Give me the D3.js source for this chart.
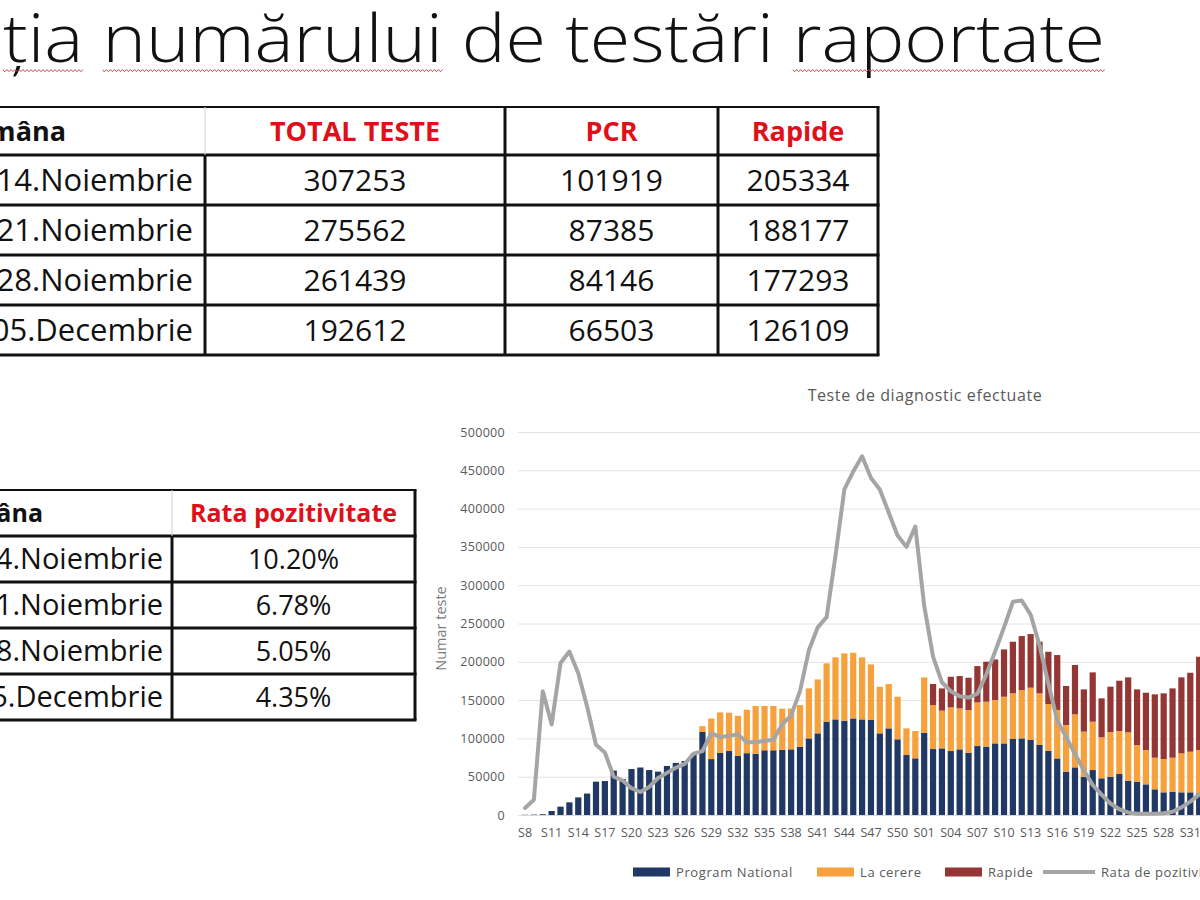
<!doctype html>
<html>
<head>
<meta charset="utf-8">
<title>Evoluția numărului de testări raportate</title>
<script src="https://cdn.jsdelivr.net/npm/d3@7"></script>
<style>
html,body{margin:0;padding:0;background:#fff;overflow:hidden;}
svg{display:block;font-family:'Open Sans','Noto Sans',sans-serif;}
</style>
</head>
<body>
<svg id="slide" width="1200" height="900"></svg>
<script>
// ---- date din slide ----
var titlu = "Evoluția numărului de testări raportate";

var saptamani = ["08-14.Noiembrie", "15-21.Noiembrie", "22-28.Noiembrie", "29-05.Decembrie"];
var totalTeste = [307253, 275562, 261439, 192612];
var testePCR = [101919, 87385, 84146, 66503];
var testeRapide = [205334, 188177, 177293, 126109];
var rataTabel = ["10.20%", "6.78%", "5.05%", "4.35%"];

// saptamanile din grafic (2020: S8..S52, 2021: S01..)
var weeks = ["S8","S9","S10","S11","S12","S13","S14","S15","S16","S17","S18","S19","S20","S21","S22","S23",
  "S24","S25","S26","S27","S28","S29","S30","S31","S32","S33","S34","S35","S36","S37","S38","S39","S40",
  "S41","S42","S43","S44","S45","S46","S47","S48","S49","S50","S51","S52",
  "S01","S02","S03","S04","S05","S06","S07","S08","S09","S10","S11","S12","S13","S14","S15","S16",
  "S17","S18","S19","S20","S21","S22","S23","S24","S25","S26","S27","S28","S29","S30","S31","S32"];

var programNational = [300,500,1000,5200,10900,16500,23000,28000,43500,44300,58000,47000,60000,62000,58700,56600,
  64000,68000,70500,80000,108500,73000,81000,83500,77000,80700,80000,84500,84500,85000,85700,89200,100000,
  106600,121800,124800,123100,126100,124800,124000,106600,113100,98800,78300,74000,
  107400,86100,87000,83500,85700,81300,90000,89200,93500,93500,99200,100000,97900,91400,83900,73900,
  56600,62200,50000,58700,47900,50000,53500,44800,43500,40000,33500,29600,30400,29600,29600,28300];

var laCerere = [0,0,0,0,0,0,0,0,0,0,0,0,0,0,0,0,
  0,0,0,0,7500,53000,53000,50000,52500,56800,62300,57800,57800,53800,53300,54300,65300,
  70400,76200,81000,87900,85700,81000,72600,60800,57900,55600,34800,35600,
  72200,57500,49200,57000,53500,55700,57000,58700,56600,60900,59600,63100,68300,67400,61000,63100,
  60900,69200,58800,63100,53500,58300,56100,63100,47900,44800,41300,43500,44400,50900,53000,56500];

var rapide = [0,0,0,0,0,0,0,0,0,0,0,0,0,0,0,0,
  0,0,0,0,0,0,0,0,0,0,0,0,0,0,0,0,0,
  0,0,0,0,0,0,0,0,0,0,0,0,
  0,27400,29100,40000,42200,42200,47400,52200,53000,61800,67400,70500,70000,67400,68200,71800,
  50900,64400,55200,64400,50900,59200,65700,71800,72600,74800,82700,85700,90500,99200,103100,121800];

// rata de pozitivitate (%), axa secundara
var rataPozitivitate = [0.55,1.2,9.7,7.1,11.9,12.8,11.1,8.5,5.5,4.9,3.0,2.7,2.1,1.8,2.2,2.9,
  3.3,3.7,4.0,4.8,5.0,6.4,6.1,6.2,6.3,5.7,5.7,5.8,5.9,7.1,7.8,9.7,12.9,
  14.7,15.5,20.3,25.5,26.9,28.1,26.4,25.5,23.7,21.9,21.0,22.6,
  16.4,12.4,10.4,9.7,9.3,9.2,9.5,11.0,12.8,14.7,16.7,16.8,15.7,13.3,10.3,7.4,
  6.1,4.8,3.5,2.35,1.6,0.9,0.45,0.2,0.1,0.1,0.1,0.13,0.26,0.6,1.05,1.6];

var yTicks = [0,50000,100000,150000,200000,250000,300000,350000,400000,450000,500000];
var serii = ["Program National", "La cerere", "Rapide"];
var culori = ["#203864", "#f7a13d", "#943634"];
var culoareLinie = "#a5a5a5";

var svg = d3.select("#slide");

// ---- titlu ----
var t = svg.append("text").attr("y", 62).attr("font-size", 66).attr("font-weight", 300).attr("fill", "#111").text(titlu);
var tn = t.node();
var full = tn.getComputedTextLength();
var pre = tn.getSubStringLength(0, 5);
var sc = 1102 / (full - pre);
var x0 = 3 - pre * sc;
var cuvinte = [[5, 3], [9, 9], [30, 9]]; // ția, numărului, raportate
var sub = cuvinte.map(function(c){
  return {x: x0 + tn.getSubStringLength(0, c[0]) * sc, w: tn.getSubStringLength(c[0], c[1]) * sc};
});
t.attr("x", x0).attr("textLength", full * sc).attr("lengthAdjust", "spacingAndGlyphs");
sub.forEach(function(s){
  var p = d3.path(), y = 70, k = 0;
  p.moveTo(s.x, y);
  for (var xx = s.x + 2; xx <= s.x + s.w; xx += 2) { k++; p.lineTo(xx, y + (k % 2 ? 1.6 : -0.4)); }
  svg.append("path").attr("d", p.toString()).attr("fill", "none").attr("stroke", "#d23b3b").attr("stroke-width", 1);
});

// ---- tabele ----
function tabel(cfg) {
  var g = svg.append("g");
  var cx = cfg.cols, ry = cfg.rows;
  ry.forEach(function(y, i){
    g.append("line").attr("x1", -10).attr("x2", cx[cx.length-1] + 1.5).attr("y1", y).attr("y2", y)
      .attr("stroke", "#111").attr("stroke-width", i === 0 ? 2 : 3);
  });
  cx.forEach(function(x, j){
    if (j === 0) return;
    var usor = j === 1;
    g.append("line").attr("x1", x).attr("x2", x).attr("y1", ry[0]).attr("y2", ry[1])
      .attr("stroke", usor ? "#d0d0d0" : "#111").attr("stroke-width", usor ? 1 : 3);
    g.append("line").attr("x1", x).attr("x2", x).attr("y1", ry[1]).attr("y2", ry[ry.length-1])
      .attr("stroke", "#111").attr("stroke-width", 3);
  });
  g.append("text").attr("x", cfg.headLeftEnd).attr("y", (ry[0] + ry[1]) / 2).attr("dy", "0.36em")
    .attr("text-anchor", "end").attr("font-weight", 700).attr("font-size", cfg.headSize).attr("fill", "#111")
    .text("Săptămâna");
  cfg.heads.forEach(function(h, j){
    g.append("text").attr("x", (cx[j+1] + cx[j+2]) / 2).attr("y", (ry[0] + ry[1]) / 2).attr("dy", "0.36em")
      .attr("text-anchor", "middle").attr("font-weight", 700).attr("font-size", cfg.headSize)
      .attr("fill", "#e0101a").text(h);
  });
  cfg.body.forEach(function(row, i){
    var yc = (ry[i+1] + ry[i+2]) / 2;
    g.append("text").attr("x", cfg.leftEnd).attr("y", yc).attr("dy", "0.36em").attr("text-anchor", "end")
      .attr("font-size", cfg.leftSize).attr("fill", "#111").text(row[0]);
    row.slice(1).forEach(function(v, j){
      g.append("text").attr("x", (cx[j+1] + cx[j+2]) / 2).attr("y", yc).attr("dy", "0.36em")
        .attr("text-anchor", "middle").attr("font-size", cfg.size).attr("fill", "#111").text(v);
    });
  });
}

tabel({
  cols: [-10, 205, 505, 718, 878],
  rows: [107, 155, 205, 255, 305, 355],
  heads: ["TOTAL TESTE", "PCR", "Rapide"],
  headSize: 27, size: 30, leftSize: 31, headLeftEnd: 66, leftEnd: 193,
  body: saptamani.map(function(s, i){ return [s, totalTeste[i], testePCR[i], testeRapide[i]]; })
});

tabel({
  cols: [-10, 172, 415],
  rows: [490, 536, 582, 628, 674, 720],
  heads: ["Rata pozitivitate"],
  headSize: 25, size: 27, leftSize: 29, headLeftEnd: 43, leftEnd: 163,
  body: saptamani.map(function(s, i){ return [s, rataTabel[i]]; })
});

// ---- grafic ----
var gray = "#595959";
var plotL = 518, plotR = 1210, yBase = 815, yTop = 432;
var idx = d3.range(weeks.length);
var x = d3.scaleBand().domain(idx).range([520.6, 520.6 + weeks.length * 8.87]).paddingInner(0.3).paddingOuter(0.15);
var y = d3.scaleLinear().domain([0, 500000]).range([yBase, yTop]);
var yR = d3.scaleLinear().domain([0, 30]).range([yBase, yTop]);

var chart = svg.append("g");

chart.append("text").attr("x", 925).attr("y", 401).attr("text-anchor", "middle")
  .attr("font-size", 16).attr("letter-spacing", 0.6).attr("fill", gray).text("Teste de diagnostic efectuate");

var yAxis = chart.append("g").attr("transform", "translate(" + plotL + ",0)")
  .call(d3.axisLeft(y).tickValues(yTicks).tickSize(-(plotR - plotL)).tickPadding(13).tickFormat(d3.format("d")));
yAxis.select(".domain").remove();
yAxis.selectAll(".tick line").attr("stroke", "#e4e4e4");
yAxis.selectAll(".tick text").attr("fill", gray).attr("font-size", 12.5).attr("letter-spacing", 0.3)
  .attr("font-family", "'Open Sans',sans-serif");

chart.append("text").attr("transform", "translate(446," + ((yBase + yTop) / 2 + 5) + ") rotate(-90)")
  .attr("text-anchor", "middle").attr("font-size", 14.5).attr("fill", "#7a7a7a").text("Numar teste");

var xAxis = chart.append("g").attr("transform", "translate(0," + yBase + ")")
  .call(d3.axisBottom(x).tickValues(idx.filter(function(i){ return i % 3 === 0; }))
    .tickFormat(function(i){ return weeks[i]; }).tickSize(0).tickPadding(13));
xAxis.select(".domain").attr("stroke", "#d9d9d9");
xAxis.selectAll(".tick text").attr("fill", gray).attr("font-size", 12.5).attr("font-family", "'Open Sans',sans-serif");

var tabela = weeks.map(function(w, i){
  return {i: i, "Program National": programNational[i], "La cerere": laCerere[i], "Rapide": rapide[i]};
});
var stiva = d3.stack().keys(serii)(tabela);

chart.append("g").selectAll("g").data(stiva).join("g")
  .attr("fill", function(d, i){ return culori[i]; })
  .selectAll("rect").data(function(d){ return d; }).join("rect")
  .attr("x", function(d){ return x(d.data.i); })
  .attr("width", x.bandwidth())
  .attr("y", function(d){ return y(d[1]); })
  .attr("height", function(d){ return y(d[0]) - y(d[1]); });

var linie = d3.line()
  .x(function(d, i){ return x(i) + x.bandwidth() / 2; })
  .y(function(d){ return yR(d); });
chart.append("path").datum(rataPozitivitate).attr("d", linie)
  .attr("fill", "none").attr("stroke", culoareLinie).attr("stroke-width", 4)
  .attr("stroke-linejoin", "round").attr("stroke-linecap", "round");

// ---- legenda ----
var leg = chart.append("g").attr("transform", "translate(0,872)");
var legX = [633, 817, 945];
serii.forEach(function(s, i){
  leg.append("rect").attr("x", legX[i]).attr("y", -4.5).attr("width", 37).attr("height", 9).attr("fill", culori[i]);
  leg.append("text").attr("x", legX[i] + 43).attr("dy", "0.35em").attr("font-size", 13).attr("letter-spacing", 0.6)
    .attr("fill", gray).text(s);
});
leg.append("line").attr("x1", 1043).attr("x2", 1095).attr("stroke", culoareLinie).attr("stroke-width", 4);
leg.append("text").attr("x", 1101).attr("dy", "0.35em").attr("font-size", 13).attr("letter-spacing", 0.6)
  .attr("fill", gray).text("Rata de pozitivitate");
</script>
</body>
</html>
